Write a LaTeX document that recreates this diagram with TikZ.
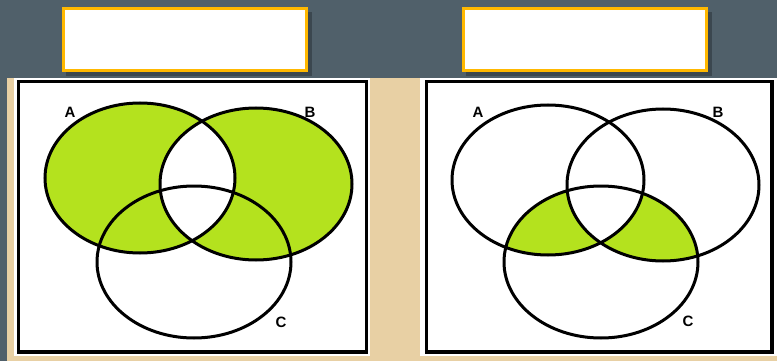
\documentclass[tikz,border=0pt]{standalone}
\usepackage{fontspec}
\setmainfont{Liberation Sans}
\definecolor{slate}{RGB}{80,96,106}
\definecolor{parch}{RGB}{232,208,164}
\definecolor{setgreen}{RGB}{180,226,30}
\definecolor{boxgold}{RGB}{255,184,0}

\tikzset{
  titlebox/.style={draw=boxgold, line width=2.5pt, fill=white, minimum width=243pt, minimum height=62pt, inner sep=0pt},
  panel/.style={draw=black, line width=3.2pt, fill=white},
  setring/.style={line width=3pt},
  setlabel/.style={font=\bfseries\fontsize{15}{15}\selectfont, inner sep=0pt}
}

\begin{document}
\begin{tikzpicture}[x=1pt, y=-1pt]
  \useasboundingbox (0,0) rectangle (777,361);
  % background
  \fill[slate] (0,0) rectangle (777,361);
  \fill[parch] (7,78) rectangle (777,361);
  \fill[white] (14,78) rectangle (370,356);
  \fill[white] (420,78) rectangle (777,356);

  % title boxes with shadow
  \fill[black, opacity=0.25] (66,12) rectangle (312,76);
  \fill[black, opacity=0.25] (466,12) rectangle (712,76);
  \node[titlebox] (lefttitle) at (185,39.5) {};
  \node[titlebox] (righttitle) at (585,39.5) {};

  % frames
  \draw[panel] (18.5,81.5) rectangle (366.5,352);
  \draw[panel] (426.5,81.5) rectangle (772,352);

  % set centres
  \coordinate (lA) at (140,178);
  \coordinate (lB) at (256,184);
  \coordinate (lC) at (194,262);
  \coordinate (rA) at (548,180);
  \coordinate (rB) at (663,185);
  \coordinate (rC) at (601,262);

  % left: A xor B
  \fill[setgreen, even odd rule] (lA) ellipse [x radius=95, y radius=75]
                                 (lB) ellipse [x radius=96, y radius=76];
  % right: C and (A xor B)
  \begin{scope}
    \clip (rC) ellipse [x radius=97, y radius=76];
    \fill[setgreen, even odd rule] (rA) ellipse [x radius=96, y radius=75]
                                   (rB) ellipse [x radius=96, y radius=76];
  \end{scope}

  \draw[setring] (lA) ellipse [x radius=95, y radius=75];
  \draw[setring] (lB) ellipse [x radius=96, y radius=76];
  \draw[setring] (lC) ellipse [x radius=97, y radius=76];
  \draw[setring] (rA) ellipse [x radius=96, y radius=75];
  \draw[setring] (rB) ellipse [x radius=96, y radius=76];
  \draw[setring] (rC) ellipse [x radius=97, y radius=76];

  % labels
  \node[setlabel] (lAlab) at (70,112) {A};
  \node[setlabel] (lBlab) at (310,112) {B};
  \node[setlabel] (lClab) at (281,322) {C};
  \node[setlabel] (rAlab) at (478,112) {A};
  \node[setlabel] (rBlab) at (718,112) {B};
  \node[setlabel] (rClab) at (688,321) {C};
\end{tikzpicture}
\end{document}
